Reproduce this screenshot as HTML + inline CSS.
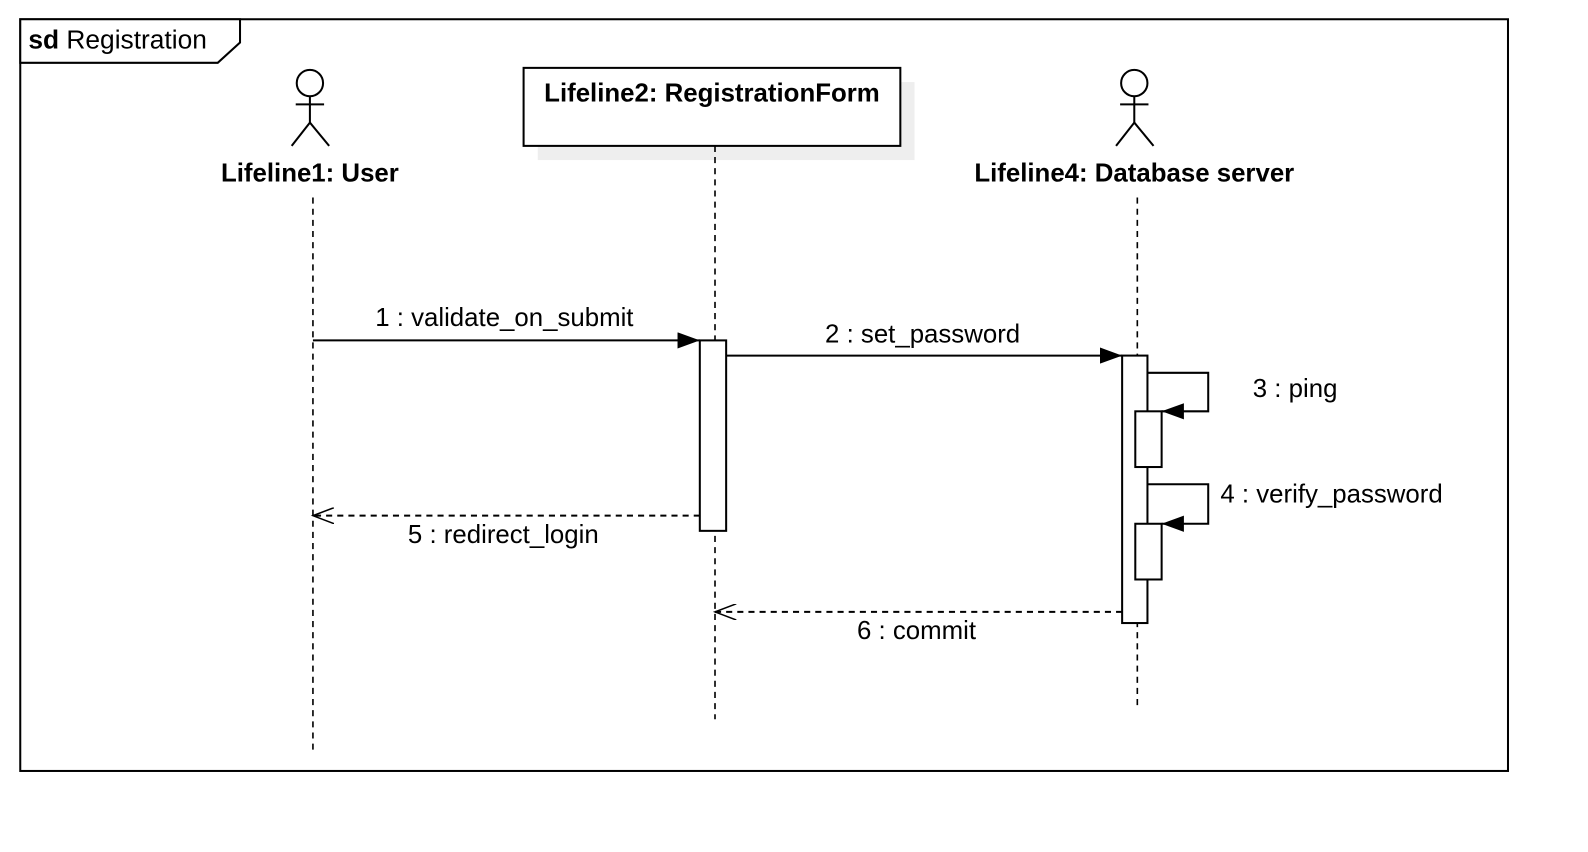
<!DOCTYPE html>
<html><head><meta charset="utf-8"><style>html,body{margin:0;padding:0;background:#fff}svg{display:block}</style></head>
<body>
<svg width="1588" height="852" viewBox="0 0 1568 841" preserveAspectRatio="none" xmlns="http://www.w3.org/2000/svg" font-family="Liberation Sans, Arial, sans-serif">
<defs>
<marker id="f" markerWidth="24" markerHeight="16" refX="22" refY="8" orient="auto" markerUnits="userSpaceOnUse"><path d="M0,0 L22,8 L0,16 Z" fill="#000"/></marker>
<marker id="o" markerWidth="24" markerHeight="16" refX="21" refY="8" orient="auto" markerUnits="userSpaceOnUse"><path d="M0,0 L21,8 L0,16" fill="none" stroke="#000" stroke-width="1.5"/></marker>
</defs>
<rect x="20" y="19" width="1469" height="742" fill="#fff" stroke="#000" stroke-width="2"/>
<polygon points="20,19 237,19 237,42 215,62 20,62" fill="#fff" stroke="#000" stroke-width="2"/>
<text x="28" y="48" font-size="26"><tspan font-weight="bold">sd</tspan> Registration</text>
<g stroke="#000" stroke-width="2" fill="#fff">
<circle cx="306" cy="82" r="13"/><line x1="306" y1="95" x2="306" y2="121"/><line x1="292" y1="103" x2="320" y2="103"/><line x1="306" y1="121" x2="288" y2="144"/><line x1="306" y1="121" x2="325" y2="144"/>
<circle cx="1120" cy="82" r="13"/><line x1="1120" y1="95" x2="1120" y2="121"/><line x1="1106" y1="103" x2="1134" y2="103"/><line x1="1120" y1="121" x2="1102" y2="144"/><line x1="1120" y1="121" x2="1139" y2="144"/>
</g>
<text x="306" y="179" font-size="25.5" font-weight="bold" text-anchor="middle">Lifeline1: User</text>
<text x="1120" y="179" font-size="25.5" font-weight="bold" text-anchor="middle">Lifeline4: Database server</text>
<rect x="531" y="81" width="372" height="77" fill="#eee"/>
<rect x="517" y="67" width="372" height="77" fill="#fff" stroke="#000" stroke-width="2"/>
<text x="703" y="100" font-size="25.5" font-weight="bold" text-anchor="middle">Lifeline2: RegistrationForm</text>
<g stroke="#000" stroke-width="1.6" stroke-dasharray="6,5">
<line x1="309" y1="195" x2="309" y2="745"/>
<line x1="706" y1="144" x2="706" y2="710"/>
<line x1="1123" y1="195" x2="1123" y2="698"/>
</g>
<rect x="691" y="336" width="26" height="188" fill="#fff" stroke="#000" stroke-width="2"/>
<rect x="1108" y="351" width="25" height="264" fill="#fff" stroke="#000" stroke-width="2"/>
<rect x="1121" y="406" width="26" height="55" fill="#fff" stroke="#000" stroke-width="2"/>
<rect x="1121" y="517" width="26" height="55" fill="#fff" stroke="#000" stroke-width="2"/>
<g stroke="#000" stroke-width="2" fill="none">
<line x1="309" y1="336" x2="691" y2="336" marker-end="url(#f)"/>
<line x1="717" y1="351" x2="1108" y2="351" marker-end="url(#f)"/>
<polyline points="1133,368 1193,368 1193,406 1147,406" marker-end="url(#f)"/>
<polyline points="1133,478 1193,478 1193,517 1147,517" marker-end="url(#f)"/>
<line x1="691" y1="509" x2="309" y2="509" stroke-dasharray="6,5" marker-end="url(#o)"/>
<line x1="1108" y1="604" x2="706" y2="604" stroke-dasharray="6,5" marker-end="url(#o)"/>
</g>
<g font-size="25.5">
<text x="498" y="322" text-anchor="middle">1 : validate_on_submit</text>
<text x="911" y="338" text-anchor="middle">2 : set_password</text>
<text x="1237" y="392">3 : ping</text>
<text x="1205" y="496">4 : verify_password</text>
<text x="497" y="536" text-anchor="middle">5 : redirect_login</text>
<text x="905" y="631" text-anchor="middle">6 : commit</text>
</g>
</svg>
</body></html>
